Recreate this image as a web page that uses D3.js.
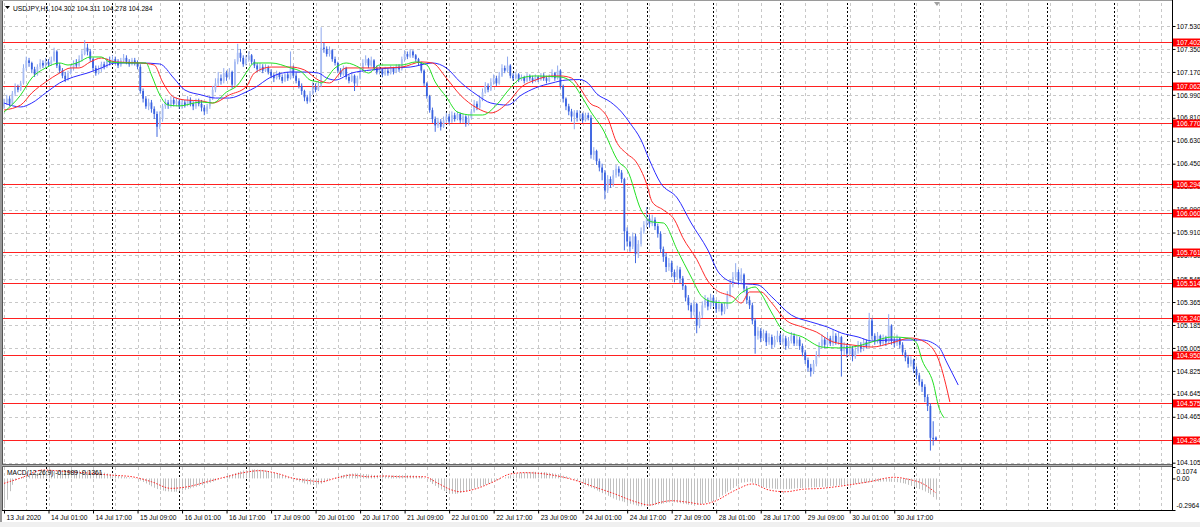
<!DOCTYPE html>
<html><head><meta charset="utf-8">
<script src="https://cdn.jsdelivr.net/npm/d3@7"></script>
<style>
html,body{margin:0;padding:0;background:#fff;}
svg{display:block;}
text{font-family:"Liberation Sans",Arial,sans-serif;}
</style></head><body>
<svg id="c" width="1200" height="527"></svg>
<script>
// ---------------- DATA ----------------
const symbolTitle = "USDJPY,H1  104.302 104.311 104.278 104.284";
const macdTitle = "MACD(12,26,9) -0.1989 -0.1361";

const opens = [
106.90,106.93,106.96,106.92,107.00,107.05,107.03,107.08,107.20,107.26,
107.24,107.19,107.15,107.21,107.24,107.22,107.25,107.23,107.26,107.33,
107.22,107.18,107.14,107.11,107.16,107.20,107.24,107.22,107.27,107.31,
107.36,107.33,107.27,107.20,107.16,107.19,107.23,107.21,107.26,107.24,
107.27,107.25,107.22,107.26,107.28,107.25,107.23,107.26,107.24,107.21,
107.02,106.96,106.90,106.93,106.88,106.84,106.74,106.80,106.90,106.93,
106.91,106.95,106.92,106.94,106.90,106.93,106.91,106.95,106.92,106.90,
106.94,106.92,106.89,106.86,106.90,106.96,107.03,107.08,107.12,107.10,
107.16,107.13,107.17,107.07,107.25,107.32,107.28,107.23,107.27,107.30,
107.25,107.22,107.19,107.21,107.18,107.20,107.17,107.14,107.12,107.16,
107.13,107.10,107.15,107.12,107.20,107.14,107.10,107.06,107.02,106.97,
106.94,107.00,107.05,107.03,107.06,107.36,107.35,107.31,107.34,107.27,
107.24,107.18,107.15,107.20,107.13,107.10,107.14,107.08,107.12,107.18,
107.24,107.27,107.22,107.26,107.20,107.17,107.19,107.15,107.18,107.16,
107.20,107.17,107.21,107.19,107.27,107.31,107.29,107.33,107.30,107.27,
107.24,107.18,107.08,106.98,106.87,106.80,106.75,106.78,106.74,106.79,
106.82,106.78,106.83,106.80,106.84,106.79,106.82,106.77,106.81,106.86,
106.92,106.89,106.95,107.01,107.06,107.03,107.09,107.12,107.08,107.14,
107.20,107.18,107.22,107.14,107.12,107.15,107.11,107.13,107.10,107.14,
107.12,107.10,107.13,107.11,107.14,107.12,107.10,107.13,107.16,107.12,
107.18,107.06,106.96,106.90,106.86,106.82,106.85,106.81,106.84,106.79,
106.83,106.81,106.52,106.55,106.47,106.42,106.38,106.24,106.33,106.29,
106.36,106.41,106.38,106.33,105.92,105.84,105.80,105.88,105.74,105.82,
105.92,105.97,106.02,105.98,106.01,105.96,105.90,105.78,105.72,105.64,
105.67,105.60,105.56,105.62,105.55,105.49,105.40,105.34,105.29,105.35,
105.18,105.26,105.34,105.38,105.33,105.40,105.36,105.31,105.35,105.29,
105.33,105.42,105.50,105.56,105.60,105.53,105.58,105.47,105.38,105.34,
105.22,105.10,105.14,105.08,105.12,105.05,105.09,105.03,105.07,105.10,
105.05,105.08,105.02,105.06,105.10,105.04,105.07,105.02,104.97,104.91,
104.85,104.82,104.88,104.95,105.02,105.07,105.03,105.08,105.04,105.10,
105.05,105.09,104.98,105.02,104.96,105.00,104.94,104.98,105.03,105.00,
105.05,105.02,105.22,105.10,105.06,105.10,105.04,105.08,105.05,105.18,
105.06,105.04,105.08,105.03,104.97,104.93,104.88,104.91,104.84,104.79,
104.74,104.70,104.62,104.55,104.30,104.302];

const highs = [
106.96,106.99,106.98,107.02,107.08,107.07,107.10,107.23,107.29,107.28,
107.25,107.21,107.23,107.27,107.26,107.28,107.27,107.29,107.36,107.34,
107.24,107.20,107.17,107.18,107.23,107.26,107.27,107.30,107.34,107.42,
107.39,107.35,107.28,107.22,107.22,107.25,107.25,107.28,107.29,107.30,
107.29,107.27,107.28,107.31,107.30,107.27,107.28,107.28,107.26,107.23,
107.04,106.98,106.96,106.95,106.90,106.86,106.86,106.92,106.96,106.95,
106.98,106.97,106.97,106.96,106.95,106.95,106.98,106.97,106.94,106.96,
106.96,106.95,106.91,106.92,106.98,107.06,107.12,107.17,107.15,107.20,
107.18,107.20,107.18,107.27,107.39,107.35,107.30,107.30,107.33,107.31,
107.27,107.24,107.24,107.23,107.23,107.22,107.19,107.16,107.18,107.17,
107.15,107.17,107.17,107.33,107.22,107.17,107.12,107.08,107.03,106.99,
107.02,107.09,107.08,107.10,107.52,107.40,107.37,107.37,107.35,107.29,
107.25,107.20,107.22,107.21,107.15,107.17,107.15,107.14,107.20,107.27,
107.30,107.28,107.29,107.27,107.22,107.22,107.20,107.21,107.20,107.22,
107.21,107.23,107.23,107.29,107.34,107.33,107.35,107.34,107.31,107.28,
107.25,107.19,107.09,106.99,106.89,106.82,106.81,106.80,106.82,106.85,
106.84,106.86,106.85,106.86,106.85,106.84,106.83,106.83,106.88,106.95,
106.94,106.98,107.04,107.09,107.08,107.12,107.15,107.14,107.17,107.23,
107.22,107.29,107.23,107.16,107.17,107.16,107.15,107.14,107.16,107.15,
107.14,107.15,107.14,107.16,107.16,107.14,107.15,107.19,107.17,107.22,
107.19,107.07,106.97,106.92,106.88,106.87,106.87,106.87,106.85,106.85,
106.85,106.83,106.58,106.56,106.49,106.45,106.40,106.36,106.35,106.40,
106.44,106.43,106.40,106.34,105.95,105.88,105.91,105.90,105.85,105.95,
106.00,106.11,106.05,106.05,106.03,105.98,105.92,105.80,105.75,105.71,
105.69,105.62,105.65,105.64,105.57,105.50,105.42,105.36,105.38,105.36,
105.29,105.37,105.42,105.40,105.43,105.42,105.38,105.38,105.36,105.36,
105.45,105.54,105.60,105.67,105.62,105.63,105.59,105.49,105.41,105.36,
105.24,105.17,105.16,105.15,105.14,105.12,105.11,105.10,105.14,105.12,
105.11,105.10,105.09,105.13,105.12,105.10,105.09,105.04,104.99,104.93,
104.88,104.91,104.98,105.05,105.11,105.09,105.13,105.10,105.15,105.12,
105.13,105.10,105.05,105.04,105.03,105.02,105.01,105.06,105.05,105.08,
105.07,105.28,105.24,105.12,105.13,105.11,105.11,105.10,105.27,105.19,
105.09,105.11,105.09,105.05,104.99,104.95,104.94,104.92,104.86,104.81,
104.76,104.72,104.64,104.57,104.43,104.311];

const lows = [
106.88,106.91,106.90,106.91,106.98,107.01,107.02,107.07,107.18,107.21,
107.16,107.13,107.14,107.19,107.20,107.20,107.21,107.22,107.25,107.20,
107.16,107.12,107.09,107.10,107.15,107.18,107.20,107.21,107.25,107.30,
107.30,107.25,107.18,107.14,107.15,107.17,107.19,107.20,107.22,107.23,
107.23,107.20,107.21,107.24,107.23,107.21,107.22,107.22,107.19,107.00,
106.93,106.88,106.87,106.85,106.80,106.66,106.72,106.78,106.88,106.88,
106.89,106.90,106.90,106.88,106.88,106.89,106.90,106.90,106.87,106.88,
106.90,106.86,106.83,106.84,106.88,106.95,107.01,107.06,107.07,107.08,
107.10,107.11,107.04,107.06,107.23,107.25,107.21,107.22,107.25,107.23,
107.20,107.17,107.17,107.16,107.17,107.15,107.12,107.09,107.11,107.11,
107.08,107.09,107.10,107.11,107.12,107.08,107.04,106.99,106.94,106.92,
106.93,106.99,107.01,107.02,107.05,107.32,107.29,107.29,107.25,107.22,
107.16,107.13,107.14,107.11,107.08,107.09,107.02,107.06,107.11,107.17,
107.22,107.20,107.21,107.18,107.15,107.15,107.13,107.14,107.14,107.15,
107.15,107.16,107.17,107.18,107.25,107.27,107.28,107.28,107.25,107.22,
107.16,107.06,106.96,106.85,106.77,106.70,106.73,106.71,106.73,106.77,
106.76,106.77,106.78,106.79,106.77,106.77,106.74,106.75,106.80,106.85,
106.87,106.88,106.94,107.00,107.01,107.02,107.07,107.06,107.07,107.13,
107.16,107.17,107.12,107.10,107.11,107.09,107.10,107.08,107.09,107.10,
107.08,107.09,107.09,107.10,107.10,107.08,107.09,107.12,107.10,107.11,
107.04,106.93,106.87,106.83,106.78,106.72,106.78,106.79,106.77,106.78,
106.79,106.49,106.48,106.44,106.39,106.32,106.17,106.22,106.26,106.27,
106.34,106.35,106.30,105.77,105.80,105.76,105.78,105.67,105.71,105.80,
105.90,105.95,105.95,105.96,105.93,105.87,105.75,105.68,105.60,105.61,
105.56,105.52,105.54,105.51,105.46,105.37,105.30,105.24,105.26,105.12,
105.16,105.24,105.32,105.30,105.31,105.33,105.28,105.29,105.26,105.27,
105.31,105.40,105.48,105.54,105.50,105.51,105.44,105.35,105.31,105.19,
104.96,105.07,105.05,105.06,105.02,105.03,105.00,105.01,105.05,105.03,
105.03,104.99,105.00,105.04,105.02,105.02,104.99,104.94,104.88,104.82,
104.78,104.80,104.86,104.93,105.00,105.00,105.01,105.02,105.02,105.03,
105.03,104.78,104.95,104.93,104.94,104.90,104.92,104.96,104.97,104.98,
105.00,105.01,105.07,105.03,105.04,105.02,105.03,105.02,105.04,105.03,
105.01,105.02,105.00,104.95,104.90,104.85,104.86,104.81,104.76,104.71,
104.66,104.58,104.51,104.20,104.24,104.278];

const closes = [
106.93,106.96,106.92,107.00,107.05,107.03,107.08,107.20,107.26,107.24,
107.19,107.15,107.21,107.24,107.22,107.25,107.23,107.26,107.33,107.22,
107.18,107.14,107.11,107.16,107.20,107.24,107.22,107.27,107.31,107.36,
107.33,107.27,107.20,107.16,107.19,107.23,107.21,107.26,107.24,107.27,
107.25,107.22,107.26,107.28,107.25,107.23,107.26,107.24,107.21,107.02,
106.96,106.90,106.93,106.88,106.84,106.74,106.80,106.90,106.93,106.91,
106.95,106.92,106.94,106.90,106.93,106.91,106.95,106.92,106.90,106.94,
106.92,106.89,106.86,106.90,106.96,107.03,107.08,107.12,107.10,107.16,
107.13,107.17,107.07,107.25,107.32,107.28,107.23,107.27,107.30,107.25,
107.22,107.19,107.21,107.18,107.20,107.17,107.14,107.12,107.16,107.13,
107.10,107.15,107.12,107.20,107.14,107.10,107.06,107.02,106.97,106.94,
107.00,107.05,107.03,107.06,107.36,107.35,107.31,107.34,107.27,107.24,
107.18,107.15,107.20,107.13,107.10,107.14,107.08,107.12,107.18,107.24,
107.27,107.22,107.26,107.20,107.17,107.19,107.15,107.18,107.16,107.20,
107.17,107.21,107.19,107.27,107.31,107.29,107.33,107.30,107.27,107.24,
107.18,107.08,106.98,106.87,106.80,106.75,106.78,106.74,106.79,106.82,
106.78,106.83,106.80,106.84,106.79,106.82,106.77,106.81,106.86,106.92,
106.89,106.95,107.01,107.06,107.03,107.09,107.12,107.08,107.14,107.20,
107.18,107.22,107.14,107.12,107.15,107.11,107.13,107.10,107.14,107.12,
107.10,107.13,107.11,107.14,107.12,107.10,107.13,107.16,107.12,107.18,
107.06,106.96,106.90,106.86,106.82,106.85,106.81,106.84,106.79,106.83,
106.81,106.52,106.55,106.47,106.42,106.38,106.24,106.33,106.29,106.36,
106.41,106.38,106.33,105.92,105.84,105.80,105.88,105.74,105.82,105.92,
105.97,106.02,105.98,106.01,105.96,105.90,105.78,105.72,105.64,105.67,
105.60,105.56,105.62,105.55,105.49,105.40,105.34,105.29,105.35,105.18,
105.26,105.34,105.38,105.33,105.40,105.36,105.31,105.35,105.29,105.33,
105.42,105.50,105.56,105.60,105.53,105.58,105.47,105.38,105.34,105.22,
105.10,105.14,105.08,105.12,105.05,105.09,105.03,105.07,105.10,105.05,
105.08,105.02,105.06,105.10,105.04,105.07,105.02,104.97,104.91,104.85,
104.82,104.88,104.95,105.02,105.07,105.03,105.08,105.04,105.10,105.05,
105.09,104.98,105.02,104.96,105.00,104.94,104.98,105.03,105.00,105.05,
105.02,105.22,105.10,105.06,105.10,105.04,105.08,105.05,105.18,105.06,
105.04,105.08,105.03,104.97,104.93,104.88,104.91,104.84,104.79,104.74,
104.70,104.62,104.55,104.30,104.29,104.284];

// Alligator lines: bar index -> price
const lipsBars = [0,6,10,15,20,23,27,31,35,38,45,51,53,56,59,63,71,75,80,84,87,90,96,103,107,110,113,114,119,123,128,131,135,143,148,152,155,159,163,168,172,177,182,186,191,200,204,208,211,215,221,224,229,233,237,242,247,251,255,261,265,270,272,276,280,287,294,300,305,312,319,325,328,330,334,336,338];
const lipsVals = [106.855,106.989,107.122,107.201,107.240,107.224,107.248,107.287,107.287,107.248,107.240,107.240,107.146,106.989,106.910,106.903,106.934,106.926,107.012,107.067,107.161,107.240,107.240,107.201,107.169,107.106,107.091,107.083,107.201,107.240,107.201,107.161,107.224,107.224,107.248,107.224,107.091,106.973,106.855,106.832,106.832,106.910,107.044,107.122,107.138,107.130,107.091,106.965,106.855,106.730,106.463,106.401,106.087,105.993,105.985,105.773,105.561,105.405,105.365,105.357,105.436,105.483,105.436,105.279,105.146,105.091,105.012,105.005,105.012,105.052,105.091,105.083,105.044,104.910,104.730,104.542,104.455];

const teethBars = [0,6,10,15,20,24,27,31,35,40,49,54,57,61,65,71,75,81,87,90,96,103,108,113,117,123,128,135,143,150,154,159,164,170,175,181,186,191,197,200,204,207,211,214,217,220,224,227,231,233,237,241,244,249,253,256,262,265,268,272,276,281,287,292,298,305,312,319,326,331,336,340];
const teethVals = [106.871,106.910,107.005,107.091,107.161,107.201,107.201,107.248,107.279,107.248,107.240,107.224,107.091,106.973,106.950,106.942,106.926,106.989,107.052,107.161,107.208,107.208,107.185,107.106,107.083,107.201,107.201,107.201,107.208,107.248,107.240,107.122,106.989,106.887,106.848,106.926,107.052,107.106,107.138,107.138,107.122,107.044,106.918,106.887,106.808,106.628,106.526,106.471,106.291,106.150,106.087,106.010,105.870,105.700,105.530,105.460,105.405,105.357,105.444,105.444,105.357,105.224,105.169,105.130,105.052,105.028,105.012,105.044,105.083,105.052,104.910,104.581];

const jawBars = [0,6,10,15,20,25,30,35,40,49,56,61,65,71,76,81,87,90,96,103,108,113,116,119,125,132,139,146,154,159,164,170,175,181,186,191,197,202,207,210,213,218,222,225,229,232,236,242,247,253,257,263,271,276,283,290,296,301,307,312,318,323,330,336,339,343];
const jawVals = [106.926,106.895,106.926,107.005,107.083,107.130,107.161,107.201,107.240,107.240,107.232,107.122,107.028,106.989,106.965,106.965,107.012,107.044,107.130,107.169,107.169,107.161,107.122,107.106,107.161,107.185,107.201,107.208,107.240,107.201,107.091,106.989,106.926,106.910,106.989,107.044,107.083,107.106,107.110,107.080,107.000,106.934,106.855,106.769,106.636,106.479,106.299,106.181,105.985,105.773,105.593,105.514,105.499,105.405,105.263,105.209,105.169,105.122,105.091,105.059,105.067,105.067,105.067,105.012,104.887,104.714];

// MACD main (histogram), one value per bar
const macdMain = [
-0.280,-0.200,-0.120,-0.060,-0.020,-0.005,0.010,0.018,0.027,0.034,
0.040,0.045,0.051,0.056,0.060,0.064,0.067,0.070,0.074,0.077,
0.080,0.080,0.079,0.080,0.081,0.080,0.079,0.078,0.077,0.076,
0.075,0.073,0.070,0.066,0.063,0.060,0.054,0.047,0.040,0.035,
0.030,0.025,0.020,0.016,0.012,0.008,0.005,-0.003,-0.011,-0.020,
-0.033,-0.047,-0.060,-0.074,-0.088,-0.100,-0.107,-0.114,-0.120,-0.122,
-0.124,-0.125,-0.125,-0.119,-0.113,-0.107,-0.100,-0.093,-0.085,-0.078,
-0.070,-0.063,-0.055,-0.048,-0.040,-0.030,-0.020,-0.010,0.000,0.010,
0.020,0.030,0.040,0.050,0.058,0.067,0.075,0.078,0.081,0.083,
0.085,0.084,0.082,0.080,0.073,0.067,0.060,0.053,0.045,0.038,
0.030,0.022,0.013,0.005,-0.007,-0.018,-0.030,-0.038,-0.047,-0.055,
-0.057,-0.059,-0.060,-0.055,-0.050,-0.037,-0.023,-0.010,0.000,0.010,
0.020,0.027,0.033,0.040,0.043,0.046,0.048,0.046,0.044,0.042,
0.040,0.037,0.035,0.032,0.030,0.029,0.027,0.026,0.025,0.026,
0.028,0.029,0.030,0.030,0.031,0.030,0.030,0.028,0.025,0.023,
0.020,0.005,-0.012,-0.032,-0.052,-0.070,-0.088,-0.104,-0.118,-0.130,
-0.139,-0.144,-0.145,-0.142,-0.137,-0.130,-0.122,-0.113,-0.104,-0.094,
-0.085,-0.077,-0.068,-0.058,-0.049,-0.039,-0.030,-0.020,-0.010,0.000,
0.010,0.020,0.030,0.036,0.043,0.049,0.055,0.057,0.059,0.061,
0.063,0.062,0.062,0.061,0.060,0.056,0.053,0.049,0.045,0.039,
0.032,0.026,0.020,0.010,0.000,-0.010,-0.023,-0.037,-0.050,-0.063,
-0.075,-0.088,-0.100,-0.113,-0.125,-0.138,-0.150,-0.163,-0.175,-0.188,
-0.200,-0.208,-0.215,-0.223,-0.230,-0.238,-0.245,-0.253,-0.260,-0.262,
-0.261,-0.260,-0.260,-0.255,-0.250,-0.245,-0.240,-0.235,-0.230,-0.225,
-0.220,-0.224,-0.228,-0.233,-0.238,-0.242,-0.246,-0.249,-0.250,-0.248,
-0.244,-0.239,-0.232,-0.224,-0.217,-0.210,-0.193,-0.177,-0.160,-0.143,
-0.125,-0.108,-0.090,-0.073,-0.057,-0.040,-0.037,-0.033,-0.030,-0.040,
-0.050,-0.060,-0.070,-0.080,-0.090,-0.093,-0.095,-0.098,-0.100,-0.100,
-0.101,-0.100,-0.100,-0.098,-0.095,-0.093,-0.090,-0.089,-0.088,-0.086,
-0.085,-0.084,-0.083,-0.081,-0.080,-0.078,-0.075,-0.073,-0.070,-0.068,
-0.065,-0.063,-0.060,-0.058,-0.055,-0.053,-0.050,-0.048,-0.045,-0.043,
-0.040,-0.036,-0.033,-0.031,-0.030,-0.030,-0.029,-0.030,-0.030,-0.032,
-0.033,-0.035,-0.040,-0.045,-0.050,-0.060,-0.070,-0.080,-0.090,-0.100,
-0.110,-0.123,-0.137,-0.150,-0.175,-0.1989];

const signalBars = [0,6,14,23,30,38,46,53,60,66,73,80,86,92,98,104,110,114,119,125,131,137,143,151,156,161,164,169,176,182,187,197,205,212,219,227,232,236,240,246,251,255,263,269,275,281,287,294,301,311,320,325,330,335];
const signalVals = [-0.046,0.004,0.079,0.063,0.051,0.032,0.016,-0.031,-0.093,-0.078,-0.031,0.016,0.054,0.073,0.048,0.001,-0.021,-0.031,0.001,0.032,0.016,0.023,0.016,0.016,-0.046,-0.109,-0.125,-0.102,-0.031,0.042,0.054,0.032,-0.015,-0.078,-0.140,-0.219,-0.250,-0.224,-0.209,-0.224,-0.243,-0.219,-0.109,-0.052,-0.109,-0.125,-0.102,-0.093,-0.071,-0.031,0.011,-0.008,-0.046,-0.1361];

const levelPrices = [107.402,107.062,106.770,106.294,106.060,105.761,105.514,105.240,104.950,104.575,104.284];
const levelLabels = ["107.402","107.062","106.770","106.294","106.060","105.761","105.514","105.240","104.950","104.575","104.284"];

const priceTicks = [107.530,107.350,107.170,106.990,106.810,106.630,106.450,106.270,106.090,105.910,105.730,105.545,105.365,105.185,105.005,104.825,104.645,104.465,104.285,104.105];
const macdTicks = [0.1074,0.0,-0.2964];
const macdTickLabels = ["0.1074","0.00","-0.2964"];

const timeLabelBars = [0,16,32,48,64,80,96,112,128,144,160,176,192,208,224,240,256,272,288,304,320];
const timeLabels = ["13 Jul 2020","14 Jul 01:00","14 Jul 17:00","15 Jul 09:00","16 Jul 01:00","16 Jul 17:00","17 Jul 09:00","20 Jul 01:00","20 Jul 17:00","21 Jul 09:00","22 Jul 01:00","22 Jul 17:00","23 Jul 09:00","24 Jul 01:00","24 Jul 17:00","27 Jul 09:00","28 Jul 01:00","28 Jul 17:00","29 Jul 09:00","30 Jul 01:00","30 Jul 17:00"];
const daySeparatorBars = [15,39,63,87,111,135,159,183,207,231,255,279,303,327,351,375,399];
const gridBars = d3.range(0, 421, 8);

// ---------------- LAYOUT ----------------
const plotL = 4, plotR = 1172, mainT = 3, mainB = 464, macdT = 467, macdB = 510;
const barW = 2.782;
const FS = 6.7;

const svg = d3.select('#c');
svg.append('rect').attr('width',1200).attr('height',527).attr('fill','#fff');
svg.append('rect').attr('x',0).attr('y',522).attr('width',1200).attr('height',5).attr('fill','#f0f0f0');

const x = d3.scaleLinear().domain([0, 100]).range([plotL, plotL + 100*barW]);
const y = d3.scaleLinear().domain([104.0947, 107.7025]).range([mainB, mainT + 1]);
const ym = d3.scaleLinear().domain([-0.2964, 0.1074]).range([macdB, macdT]);

const defs = svg.append('defs');
defs.append('clipPath').attr('id','clipMain').append('rect')
  .attr('x',plotL-1).attr('y',mainT).attr('width',plotR-plotL+1).attr('height',mainB-mainT);
defs.append('clipPath').attr('id','clipMacd').append('rect')
  .attr('x',plotL-1).attr('y',macdT).attr('width',plotR-plotL+1).attr('height',macdB-macdT);

// grid - horizontal
const gGrid = svg.append('g');
gGrid.selectAll('line.h').data(priceTicks).join('line')
  .attr('x1',plotL-1).attr('x2',plotR)
  .attr('y1',d=>Math.round(y(d))+0.5).attr('y2',d=>Math.round(y(d))+0.5)
  .attr('stroke','#c8c8c8').attr('stroke-dasharray','3,3');
// vertical gray grid
[[mainT,mainB],[macdT,macdB]].forEach(([t,b])=>{
  gGrid.append('g').selectAll('line').data(gridBars.filter(d=>x(d)<plotR)).join('line')
    .attr('x1',d=>Math.round(x(d))+0.5).attr('x2',d=>Math.round(x(d))+0.5)
    .attr('y1',t).attr('y2',b)
    .attr('stroke','#c8c8c8').attr('stroke-dasharray','3,3');
  gGrid.append('g').selectAll('line').data(daySeparatorBars.filter(d=>x(d)<plotR)).join('line')
    .attr('x1',d=>Math.round(x(d))+0.5).attr('x2',d=>Math.round(x(d))+0.5)
    .attr('y1',t).attr('y2',b)
    .attr('stroke','#000').attr('stroke-dasharray','2,2');
});

// level lines
const gMain = svg.append('g').attr('clip-path','url(#clipMain)');
gMain.selectAll('line.lvl').data(levelPrices).join('line')
  .attr('x1',plotL-1).attr('x2',plotR)
  .attr('y1',d=>Math.round(y(d))+0.5).attr('y2',d=>Math.round(y(d))+0.5)
  .attr('stroke','#ff2020').attr('stroke-width',1);

// candles
const idx = d3.range(closes.length);
const bull = i => closes[i] >= opens[i];
gMain.append('g').selectAll('line').data(idx).join('line')
  .attr('x1',i=>x(i)).attr('x2',i=>x(i))
  .attr('y1',i=>y(highs[i])).attr('y2',i=>y(lows[i]))
  .attr('stroke',i=>bull(i)?'#8fa9ee':'#4169e1').attr('stroke-width',1);
gMain.append('g').selectAll('rect').data(idx).join('rect')
  .attr('x',i=>x(i)-0.9).attr('width',1.8)
  .attr('y',i=>y(Math.max(opens[i],closes[i])))
  .attr('height',i=>Math.max(0.8, Math.abs(y(opens[i])-y(closes[i]))))
  .attr('fill',i=>bull(i)?'#a9bdf3':'#3a62e0');

// alligator
const lineGen = d3.line().x(d=>x(d[0])).y(d=>y(d[1])).curve(d3.curveMonotoneX);
const addMA = (bars, vals, color) => gMain.append('path')
  .attr('d', lineGen(bars.map((b,i)=>[b, vals[i]])))
  .attr('fill','none').attr('stroke',color).attr('stroke-width',1);
addMA(jawBars, jawVals, '#2b2bff');
addMA(teethBars, teethVals, '#ff2a2a');
addMA(lipsBars, lipsVals, '#22e022');

// MACD
const gM = svg.append('g').attr('clip-path','url(#clipMacd)');
gM.append('g').selectAll('line').data(idx).join('line')
  .attr('x1',i=>Math.round(x(i))+0.5).attr('x2',i=>Math.round(x(i))+0.5)
  .attr('y1',ym(0)).attr('y2',i=>ym(macdMain[i]))
  .attr('stroke','#c0c0c0').attr('stroke-width',1);
gM.append('path')
  .attr('d', d3.line().x(d=>x(d[0])).y(d=>ym(d[1])).curve(d3.curveMonotoneX)(signalBars.map((b,i)=>[b,signalVals[i]])))
  .attr('fill','none').attr('stroke','#ff2020').attr('stroke-width',1).attr('stroke-dasharray','1.5,1.5');

// frames
svg.append('rect').attr('x',0).attr('y',0).attr('width',2).attr('height',522).attr('fill','#9a9a9a');
svg.append('line').attr('x1',2.5).attr('x2',2.5).attr('y1',0).attr('y2',511).attr('stroke','#555');
svg.append('line').attr('x1',2).attr('x2',plotR).attr('y1',0.5).attr('y2',0.5).attr('stroke','#9a9a9a');
svg.append('rect').attr('x',2).attr('y',mainB).attr('width',plotR-2).attr('height',macdT-mainB).attr('fill','#b4b4b4');
svg.append('line').attr('x1',2).attr('x2',plotR).attr('y1',mainB+0.5).attr('y2',mainB+0.5).attr('stroke','#666');
svg.append('line').attr('x1',2).attr('x2',plotR).attr('y1',macdT-0.5).attr('y2',macdT-0.5).attr('stroke','#666');
svg.append('line').attr('x1',2).attr('x2',plotR+0.5).attr('y1',macdB+0.5).attr('y2',macdB+0.5).attr('stroke','#000');
svg.append('line').attr('x1',plotR+0.5).attr('x2',plotR+0.5).attr('y1',0).attr('y2',macdB+1).attr('stroke','#000');

// price axis
const ax = svg.append('g').attr('transform',`translate(${plotR+0.5},0)`)
  .call(d3.axisRight(y).tickValues(priceTicks).tickSize(3).tickFormat(d3.format('.3f')));
ax.select('.domain').remove();
ax.selectAll('line').attr('stroke','#000');
ax.selectAll('text').attr('x',4).attr('font-size',FS).attr('fill','#000').attr('font-family','"Liberation Sans",Arial,sans-serif');

// macd axis
const axm = svg.append('g').attr('transform',`translate(${plotR+0.5},0)`)
  .call(d3.axisRight(ym).tickValues(macdTicks).tickSize(3).tickFormat((d,i)=>macdTickLabels[i]));
axm.select('.domain').remove();
axm.selectAll('line').attr('stroke','#000');
axm.selectAll('text').attr('x',4).attr('font-size',FS).attr('fill','#000').attr('font-family','"Liberation Sans",Arial,sans-serif')
  .attr('dy',(d,i)=> i===0 ? '1.0em' : (i===2 ? '-0.35em' : '0.32em'));

// level labels
const gl = svg.append('g');
gl.selectAll('rect').data(levelPrices).join('rect')
  .attr('x',plotR+1).attr('width',27).attr('y',d=>Math.round(y(d))-3.5).attr('height',8)
  .attr('fill','#ff0000');
gl.selectAll('text').data(levelPrices).join('text')
  .attr('x',plotR+4.5).attr('y',d=>Math.round(y(d))+3)
  .attr('font-size',FS).attr('fill','#fff')
  .text((d,i)=>levelLabels[i]);

// time axis
const axb = svg.append('g').attr('transform',`translate(0,${macdB+0.5})`)
  .call(d3.axisBottom(x).tickValues(timeLabelBars).tickSize(3).tickFormat((d,i)=>timeLabels[i]));
axb.select('.domain').remove();
axb.selectAll('line').attr('stroke','#000');
axb.selectAll('text').attr('text-anchor','start').attr('x',2).attr('y',4).attr('dy','0.75em')
  .attr('font-size',FS).attr('fill','#000').attr('font-family','"Liberation Sans",Arial,sans-serif');

// header
svg.append('path').attr('d','M5,6 L10,6 L7.5,9 Z').attr('fill','#000');
svg.append('text').attr('x',13).attr('y',10.5).attr('font-size',FS).attr('fill','#000').text(symbolTitle);
svg.append('text').attr('x',7).attr('y',475).attr('font-size',FS).attr('fill','#000').text(macdTitle);
// chart shift marker
svg.append('path').attr('d','M934,2 L940,2 L937,6 Z').attr('fill','#a0a0a0');
</script>
</body></html>
